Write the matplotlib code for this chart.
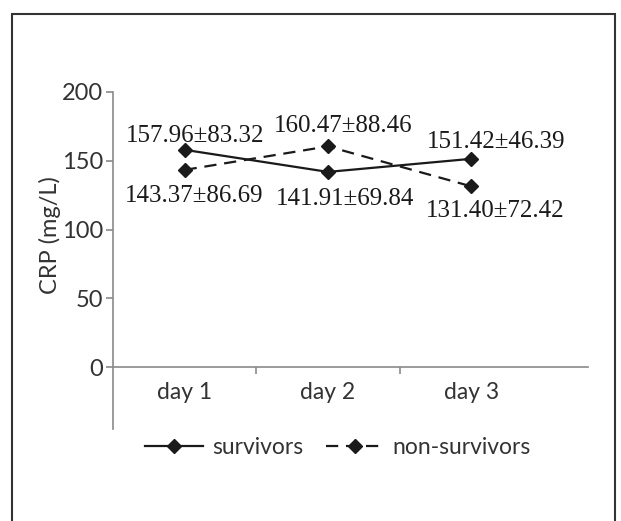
import matplotlib
matplotlib.use("Agg")
import matplotlib.pyplot as plt
from matplotlib.patches import Rectangle

days = ["day 1", "day 2", "day 3"]
survivors = [157.96, 141.91, 151.42]
survivors_sd = [83.32, 69.84, 46.39]
non_survivors = [143.37, 160.47, 131.40]
non_survivors_sd = [86.69, 88.46, 72.42]
y_ticks = [0, 50, 100, 150, 200]

# label offsets in pixels (dx, dy) from each point
surv_offsets = [(10, 14), (17, -27), (25, 17)]
non_offsets = [(9, -26), (15, 20), (24, -25)]

plt.rcParams['font.family'] = ['Lato', 'DejaVu Sans']

fig = plt.figure(figsize=(6.21, 5.21), dpi=100)
fig.patches.append(Rectangle((12 / 621, -0.1), (615 - 12) / 621, 1.1 - 14 / 521,
                             transform=fig.transFigure, fill=False,
                             edgecolor="#333333", linewidth=1.5))

ax = fig.add_axes([113 / 621, (521 - 429) / 521, (588 - 113) / 621, (429 - 92) / 521])
x = list(range(len(days)))
axis_col = "#8a8a8a"
ink = "#1a1a1a"

ax.plot(x, survivors, color=ink, linewidth=1.6, marker="D", markersize=7.5,
        label="survivors")
ax.plot(x, non_survivors, color=ink, linewidth=1.6, linestyle=(0, (5.5, 3.5)),
        marker="D", markersize=7.5, label="non-survivors")

for i in x:
    ax.annotate(f"{survivors[i]:.2f}±{survivors_sd[i]:.2f}", (i, survivors[i]),
                xytext=surv_offsets[i], textcoords="offset pixels",
                ha="center", va="center", fontsize=18,
                family="Liberation Serif", color=ink)
    ax.annotate(f"{non_survivors[i]:.2f}±{non_survivors_sd[i]:.2f}",
                (i, non_survivors[i]), xytext=non_offsets[i],
                textcoords="offset pixels", ha="center", va="center",
                fontsize=18, family="Liberation Serif", color=ink)

ax.set_xlim(-0.5, -0.5 + (588 - 113) / 143.3)
ax.set_ylim(-45, 200)
ax.set_yticks(y_ticks)
ax.set_xticks(x)
ax.set_xticklabels(days)
ax.set_xticks([0.5, 1.5], minor=True)

for s in ["top", "right"]:
    ax.spines[s].set_visible(False)
ax.spines["left"].set_color(axis_col)
ax.spines["left"].set_linewidth(1.2)
ax.spines["bottom"].set_position(("data", 0))
ax.spines["bottom"].set_color(axis_col)
ax.spines["bottom"].set_linewidth(1.2)

ax.tick_params(axis="y", colors=axis_col, labelcolor="#333333", labelsize=17,
               length=5, width=1.2, pad=2)
ax.tick_params(axis="x", which="major", length=0, labelcolor="#333333",
               labelsize=16.5, pad=11)
ax.tick_params(axis="x", which="minor", colors=axis_col, length=5, width=1.2,
               direction="in")
for t in ax.get_xticklines(minor=True):
    t.set_marker(3)

ax.set_ylabel("CRP (mg/L)", fontsize=17, color="#333333")
ax.yaxis.set_label_coords(-52 / 475, (429 - 235) / 337)

fig.legend(loc="center", bbox_to_anchor=(338 / 621, (521 - 448) / 521), ncol=2,
           frameon=False, fontsize=16.5, handlelength=2.5, handletextpad=0.4,
           columnspacing=1.0, labelcolor="#333333")

fig.savefig("out.png", dpi=100)
